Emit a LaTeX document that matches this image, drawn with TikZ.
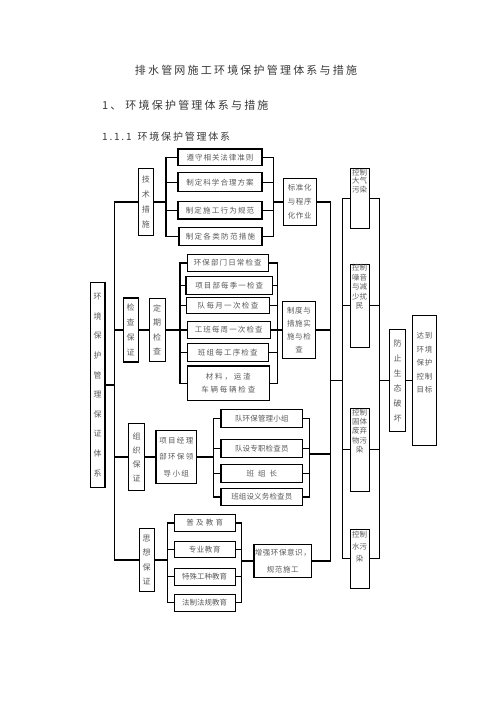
\documentclass[tikz,border=0pt]{standalone}
\usepackage{fontspec}
\setmainfont{Noto Sans CJK SC}
\usetikzlibrary{calc}
\definecolor{txt}{gray}{0.35}
\definecolor{htxt}{gray}{0.22}
\tikzset{
  bx/.style={draw, line width=1.1pt, inner sep=0pt, text=txt, align=center},
  hz/.style={font=\fontsize{7.5}{9}\selectfont\addfontfeatures{LetterSpace=#1}},
  hz/.default=15,
  rows/.style={font=\fontsize{7.5}{#1}\selectfont\addfontfeatures{LetterSpace=8}},
  vt/.style={font=\fontsize{8}{#1}\selectfont},
  sm/.style={inner sep=0pt, text=txt, align=center, font=\fontsize{7.5}{#1}\selectfont},
  ln/.style={line width=1.1pt},
}
\begin{document}
\begin{tikzpicture}[x=1pt,y=-1pt]
\useasboundingbox (0,0) rectangle (496,702);
% headings
\node[inner sep=0pt, text=htxt, font=\fontsize{11}{13}\selectfont\addfontfeatures{LetterSpace=20}] (title) at (246,70) {排水管网施工环境保护管理体系与措施};
\node[anchor=west, inner sep=0pt, text=htxt, font=\fontsize{11}{13}\selectfont\addfontfeatures{LetterSpace=20}] (h1) at (102,105) {1、\hspace{4pt}环境保护管理体系与措施};
\node[anchor=west, inner sep=0pt, text=htxt, font=\fontsize{10}{12}\selectfont\addfontfeatures{LetterSpace=18}] (h2) at (102,137) {1.1.1\hspace{6pt}环境保护管理体系};

% coordinates of bracket lines
\coordinate (tL) at (166,0);   \coordinate (tR) at (273.3,0);
\coordinate (mv) at (114.3,0);
\coordinate (cL) at (180,0);   \coordinate (cR) at (277.3,0);
\coordinate (zL) at (213.3,0); \coordinate (zR) at (309.3,0);
\coordinate (sL) at (167.3,0); \coordinate (sR) at (241.7,0);
\coordinate (cv) at (330.7,0);
\coordinate (kL) at (342.3,0); \coordinate (kR) at (379.3,0);
\coordinate (zOut) at (309.3,454);
\coordinate (cvOut) at (330.7,380.7);

% technical measures
\node[bx, vt=15, minimum width=15pt, minimum height=67.4pt] (tj) at (145.8,202) {技\\术\\措\\施};
\node[bx, hz=13, minimum width=84pt, minimum height=16.7pt] (t1) at (220,157.3) {遵守相关法律准则};
\node[bx, hz=14, minimum width=84pt, minimum height=19pt] (t2) at (220,182.2) {制定科学合理方案};
\node[bx, hz=16, minimum width=84pt, minimum height=17.3pt] (t3) at (220,210.3) {制定施工行为规范};
\node[bx, hz=18, minimum width=83pt, minimum height=18pt] (t4) at (220.5,236.7) {制定各类防范措施};
\node[bx, rows=14, minimum width=32.7pt, minimum height=47.4pt] (ts) at (299.7,202) {标准化\\与程序\\化作业};

% main box
\node[bx, vt=19.6, minimum width=14.5pt, minimum height=205pt] (m) at (97.7,385) {环\\境\\保\\护\\管\\理\\保\\证\\体\\系};

% check group
\node[bx, vt=15, minimum width=15pt, minimum height=64pt] (cj) at (130.7,330) {检\\查\\保\\证};
\node[bx, vt=14.5, minimum width=15.7pt, minimum height=62.4pt] (cd) at (157.2,330) {定\\期\\检\\查};
\node[bx, hz, minimum width=81pt, minimum height=17.4pt] (c1) at (227.8,263) {环保部门日常检查};
\node[bx, hz, minimum width=86.7pt, minimum height=18.3pt] (c2) at (229.3,285.2) {项目部每季一检查};
\node[bx, hz=18, minimum width=82.6pt, minimum height=16pt] (c3) at (228,305.3) {队每月一次检查};
\node[bx, hz, minimum width=82.7pt, minimum height=17.6pt] (c4) at (228.7,330) {工班每周一次检查};
\node[bx, hz=16, minimum width=81pt, minimum height=18.4pt] (c5) at (227.8,352.5) {班组每工序检查};
\node[bx, font=\fontsize{7.5}{13}\selectfont\addfontfeatures{LetterSpace=24}, minimum width=82pt, minimum height=34.7pt] (c6) at (228.3,383.3) {材料，运渣\\车辆每辆检查};
\node[bx, rows=13.3, minimum width=33.4pt, minimum height=56.6pt] (cz) at (299,330) {制度与\\措施实\\施与检\\查};

% organisation group
\node[bx, vt=14, minimum width=15.4pt, minimum height=67.7pt] (zz) at (136.5,457) {组\\织\\保\\证};
\node[bx, font=\fontsize{7.5}{16.5}\selectfont\addfontfeatures{LetterSpace=18}, minimum width=40.7pt, minimum height=52.3pt] (zl) at (176.3,457) {项目经理\\部环保领\\导小组};
\node[bx, hz=2, minimum width=81.7pt, minimum height=18.3pt] (z1) at (261.8,418.2) {队环保管理小组};
\node[bx, hz=2, minimum width=81.7pt, minimum height=18pt] (z2) at (261.8,448.3) {队设专职检查员};
\node[bx, hz=2, minimum width=81.7pt, minimum height=18pt] (z3) at (261.8,473.3) {班\hspace{4pt}组\hspace{4pt}长};
\node[bx, hz=2, minimum width=81.7pt, minimum height=17.4pt] (z4) at (261.8,497) {班组设义务检查员};

% thought group
\node[bx, vt=14.4, minimum width=14.7pt, minimum height=62.3pt] (sx) at (146.7,560) {思\\想\\保\\证};
\node[bx, hz=30, minimum width=60.7pt, minimum height=17.4pt] (s1) at (204.7,523) {普及教育};
\node[bx, hz=8, minimum width=60.7pt, minimum height=16pt] (s2) at (204.7,549.7) {专业教育};
\node[bx, hz=0, minimum width=60.7pt, minimum height=16.7pt] (s3) at (204.7,576.7) {特殊工种教育};
\node[bx, hz=0, minimum width=60.7pt, minimum height=16.7pt] (s4) at (204.7,602.7) {法制法规教育};
\node[bx, font=\fontsize{7.5}{16.7}\selectfont\addfontfeatures{LetterSpace=8}, minimum width=57.7pt, minimum height=32.6pt] (sq) at (282.8,561) {增强环保意识，\\规范施工};

% control boxes
\node[bx, minimum width=19.3pt, minimum height=60pt] (k1) at (359.7,198.3) {};
\node[sm=8.7, anchor=north] (k1t) at ([yshift=-1pt]k1.north) {控制\\大气\\污染};
\node[bx, minimum width=19.3pt, minimum height=83pt] (k2) at (359.7,305.8) {};
\node[sm=9.5, anchor=north] (k2t) at ([yshift=-0.5pt]k2.north) {控制\\噪音\\与减\\少扰\\民};
\node[bx, minimum width=19.3pt, minimum height=82.7pt] (k3) at (359.7,449.7) {};
\node[sm=9.3, anchor=north] (k3t) at ([yshift=-1pt]k3.north) {控制\\固体\\废弃\\物污\\染};
\node[bx, minimum width=19.3pt, minimum height=59pt] (k4) at (359.7,558.8) {};
\node[sm=12, anchor=north] (k4t) at ([yshift=-2.5pt]k4.north) {控制\\水污\\染};
\node[bx, vt=15, minimum width=16.4pt, minimum height=101.7pt] (fz) at (397.5,380.7) {防\\止\\生\\态\\破\\坏};
\node[bx, minimum width=24.4pt, minimum height=130pt] (dd) at (424.5,380.7) {};
\node[sm=13.5, anchor=north, font=\fontsize{7.5}{13.5}\selectfont\addfontfeatures{LetterSpace=10}] (ddt) at ([yshift=-17pt]dd.north) {达到\\环境\\保护\\控制\\目标};

% ---- connectors ----
% technical
\draw[ln] (tj.east) -- (tj.east -| tL);
\draw[ln] (t1.west) -- (t1.west -| tL) -- (t4.west -| tL) -- (t4.west);
\draw[ln] (t2.west) -- (t2.west -| tL);
\draw[ln] (t3.west) -- (t3.west -| tL);
\draw[ln] (t1.east) -- (t1.east -| tR) -- (t4.east -| tR) -- (t4.east);
\draw[ln] (t2.east) -- (t2.east -| tR);
\draw[ln] (t3.east) -- (t3.east -| tR);
\draw[ln] (ts.west) -- (ts.west -| tR);
% main spine
\draw[ln] (tj.west) -- (tj.west -| mv) -- (sx.west -| mv) -- (sx.west);
\draw[ln] (m.east) -- (m.east -| mv);
\draw[ln] (cj.west) -- (cj.west -| mv);
\draw[ln] (zz.west) -- (zz.west -| mv);
% check
\draw[ln] (cj.east) -- (cd.west);
\draw[ln] (cd.east) -- (cd.east -| cL);
\draw[ln] (c1.west) -- (c1.west -| cL) -- (c6.west -| cL) -- (c6.west);
\foreach \n in {c2,c3,c4,c5} \draw[ln] (\n.west) -- (\n.west -| cL);
\draw[ln] (c1.east) -- (c1.east -| cR) -- (c6.east -| cR) -- (c6.east);
\foreach \n in {c2,c3,c4,c5} \draw[ln] (\n.east) -- (\n.east -| cR);
\draw[ln] (cz.west) -- (cz.west -| cR);
% organisation
\draw[ln] (zz.east) -- (zl.west);
\draw[ln] (zl.east) -- (zl.east -| zL);
\draw[ln] (z1.west) -- (z1.west -| zL) -- (z4.west -| zL) -- (z4.west);
\foreach \n in {z2,z3} \draw[ln] (\n.west) -- (\n.west -| zL);
\draw[ln] (z1.east) -- (z1.east -| zR) -- (z4.east -| zR) -- (z4.east);
\foreach \n in {z2,z3} \draw[ln] (\n.east) -- (\n.east -| zR);
\draw[ln] (zOut) -- (zOut -| cv);
% thought
\draw[ln] (sx.east) -- (sx.east -| sL);
\draw[ln] (s1.west) -- (s1.west -| sL) -- (s4.west -| sL) -- (s4.west);
\foreach \n in {s2,s3} \draw[ln] (\n.west) -- (\n.west -| sL);
\draw[ln] (s1.east) -- (s1.east -| sR) -- (s4.east -| sR) -- (s4.east);
\foreach \n in {s2,s3} \draw[ln] (\n.east) -- (\n.east -| sR);
\draw[ln] (sq.west) -- (sq.west -| sR);
% collector
\draw[ln] (ts.east) -- (ts.east -| cv) -- (sq.east -| cv) -- (sq.east);
\draw[ln] (cz.east) -- (cz.east -| cv);
\draw[ln] (cvOut) -- (cvOut -| kL);
% control bracket
\draw[ln] (k1.west) -- (k1.west -| kL) -- (k4.west -| kL) -- (k4.west);
\foreach \n in {k2,k3} \draw[ln] (\n.west) -- (\n.west -| kL);
\draw[ln] (k1.east) -- (k1.east -| kR) -- (k4.east -| kR) -- (k4.east);
\foreach \n in {k2,k3} \draw[ln] (\n.east) -- (\n.east -| kR);
\draw[ln] (fz.west) -- (fz.west -| kR);
\draw[ln] (fz.east) -- (dd.west);
\end{tikzpicture}
\end{document}
